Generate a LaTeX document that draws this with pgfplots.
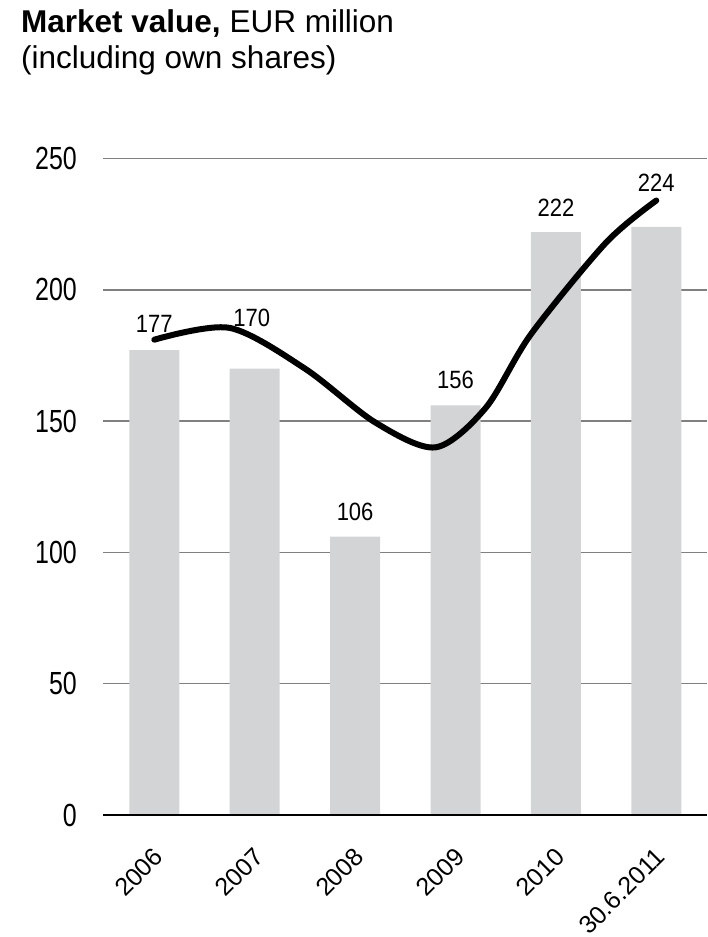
\documentclass[border=0pt]{standalone}
\usepackage{fontspec}
\setmainfont{Liberation Sans}
\newfontfamily\ticknarrow[FakeStretch=0.78]{Liberation Sans}
\newfontfamily\valnarrow[FakeStretch=0.88]{Liberation Sans}
\usepackage{pgfplots}
\pgfplotsset{compat=1.18}
\definecolor{barfill}{RGB}{211,212,214}
\definecolor{gridgray}{RGB}{128,128,128}

\begin{document}
\begin{tikzpicture}
\path[use as bounding box] (0,0) rectangle (707pt,937pt);

% title
\node[anchor=base west, inner sep=0, font=\fontsize{31.5}{36}\selectfont]
  at (21pt,904pt) {\textbf{Market value,} EUR million};
\node[anchor=base west, inner sep=0, font=\fontsize{31.5}{36}\selectfont]
  at (21pt,868pt) {(including own shares)};

\begin{axis}[
    at={(103.5pt,122pt)}, anchor=south west,
    scale only axis,
    width=603.5pt, height=656.5pt,
    xmin=-0.506, xmax=5.505,
    ymin=0, ymax=250,
    enlargelimits=false,
    clip=false,
    axis line style={draw=none},
    major tick length=0pt,
    xtick={0,1,2,3,4,5},
    xticklabels={2006,2007,2008,2009,2010,30.6.2011},
    xticklabel style={xshift=-2pt, yshift=-31pt, rotate=45, anchor=north east,
        inner sep=0pt, font=\fontsize{25}{25}\selectfont},
    ytick={0,50,100,150,200,250},
    yticklabel style={anchor=east, inner sep=0pt, xshift=-26.5pt,
        font=\ticknarrow\fontsize{32}{32}\selectfont},
    /pgf/number format/assume math mode=true,
    ymajorgrids,
    major grid style={gridgray, line width=1.5pt},
]
\addplot[ybar, bar width=50pt, fill=barfill, draw=none]
    coordinates {(0,177) (1,170) (2,106) (3,156) (4,222) (5,224)};

\addplot[black, line width=6pt, line cap=round, smooth]
    coordinates {(0,181) (0.75,185.5) (1.5,170) (2.2,149.5) (2.8,140)
                 (3.3,155) (3.75,183) (4.5,218) (5,234)};

\draw[black, line width=2.5pt] (axis cs:-0.506,0) -- (axis cs:5.505,0);

\begin{scope}[every node/.style={inner sep=0pt, font=\valnarrow\fontsize{25}{25}\selectfont}]
\node at (axis cs:0,187) {177};
\node at (axis cs:0.97,189.3) {170};
\node at (axis cs:2,115.4) {106};
\node at (axis cs:3,165.5) {156};
\node at (axis cs:4,231.3) {222};
\node at (axis cs:5,240.7) {224};
\end{scope}
\end{axis}
\end{tikzpicture}
\end{document}
